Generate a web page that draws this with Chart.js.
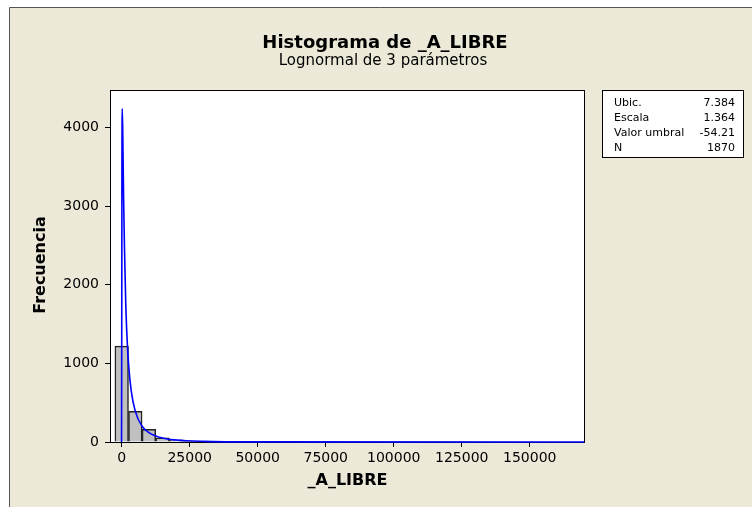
<!DOCTYPE html>
<html>
<head>
<meta charset="utf-8">
<script src="https://cdn.jsdelivr.net/npm/chart.js@4"></script>
<style>
  html, body { margin: 0; padding: 0; background: #fff; }
  #wrap { width: 752px; height: 507px; }
</style>
</head>
<body>
<div id="wrap"><canvas id="histChart" width="752" height="507"></canvas></div>
<script>
// histogram bins (centre of each 5000-wide bin) and counts
const binCenters = [0, 5000, 10000, 15000, 20000, 25000, 30000, 50000];
const binCounts = [1220, 390, 160, 52, 28, 8, 3, 10];

// fitted 3-parameter lognormal
const curveX = [-54, 20, 80, 200, 400, 700, 1000, 1500, 2000, 2500, 3500, 5000, 7500, 10000, 15000, 20000, 30000, 50000, 170000];
const curveY = [0, 1500, 3300, 4240, 3900, 3100, 2500, 1750, 1300, 1000, 650, 390, 200, 120, 50, 25, 8, 1, 0];

const xTicks = [0, 25000, 50000, 75000, 100000, 125000, 150000];
const yTicks = [0, 1000, 2000, 3000, 4000];

const statLabels = ['Ubic.', 'Escala', 'Valor umbral', 'N'];
const statValues = ['7.384', '1.364', '-54.21', '1870'];

const FONT = '"DejaVu Sans", Verdana, sans-serif';

const decor = {
    id: 'decor',
    beforeDraw(chart) {
        const c = chart.ctx, a = chart.chartArea;
        c.save();
        c.fillStyle = '#fff';
        c.fillRect(0, 0, chart.width, chart.height);
        c.fillStyle = '#ECE9D8';
        c.fillRect(10, 8, chart.width - 10, chart.height - 8);
        c.strokeStyle = '#555';
        c.lineWidth = 1;
        c.beginPath();
        c.moveTo(9.5, chart.height);
        c.lineTo(9.5, 7.5);
        c.lineTo(chart.width, 7.5);
        c.stroke();
        c.fillStyle = '#fff';
        c.fillRect(a.left, a.top, a.right - a.left, a.bottom - a.top);
        c.restore();
    },
    beforeDatasetsDraw(chart) {
        // plot frame, under the curve so the baseline shows blue
        const c = chart.ctx, a = chart.chartArea;
        c.save();
        c.strokeStyle = '#000';
        c.lineWidth = 1;
        c.strokeRect(a.left + 0.5, a.top + 0.5, a.right - a.left - 1, a.bottom - a.top);
        c.restore();
    },
    afterDraw(chart) {
        const c = chart.ctx, a = chart.chartArea;
        c.save();
        c.fillStyle = '#000';
        c.textAlign = 'center';
        c.textBaseline = 'middle';
        c.font = 'bold 18px ' + FONT;
        c.fillText('Histograma de _A_LIBRE', 385, 43);
        c.font = '15px ' + FONT;
        c.fillText('Lognormal de 3 parámetros', 383, 61);
        c.font = 'bold 16px ' + FONT;
        c.fillText('_A_LIBRE', (a.left + a.right) / 2, 481);
        c.save();
        c.translate(41, 265);
        c.rotate(-Math.PI / 2);
        c.fillText('Frecuencia', 0, 0);
        c.restore();
        // stats box
        c.strokeStyle = '#000';
        c.lineWidth = 1;
        c.fillStyle = '#fff';
        c.fillRect(602, 90, 141, 67);
        c.strokeRect(602.5, 90.5, 141, 67);
        c.fillStyle = '#000';
        c.font = '11px ' + FONT;
        statLabels.forEach((t, i) => {
            c.textAlign = 'left';
            c.fillText(t, 614, 103 + i * 15);
            c.textAlign = 'right';
            c.fillText(statValues[i], 735, 103 + i * 15);
        });
        c.restore();
    }
};

new Chart(document.getElementById('histChart'), {
    data: {
        datasets: [{
            type: 'line',
            data: curveX.map((x, i) => ({ x: x, y: curveY[i] })),
            borderColor: '#0000FF',
            borderWidth: 1.6,
            pointRadius: 0,
            cubicInterpolationMode: 'monotone',
            clip: false,
            order: 0
        }, {
            type: 'bar',
            data: binCenters.map((x, i) => ({ x: x, y: binCounts[i] })),
            backgroundColor: '#C0C0C0',
            borderColor: '#222',
            borderWidth: 1.5,
            barPercentage: 1,
            categoryPercentage: 1,
            order: 1
        }]
    },
    options: {
        responsive: false,
        animation: false,
        layout: { padding: { left: 10, right: 167, top: 90, bottom: 0 } },
        plugins: { legend: { display: false }, tooltip: { enabled: false } },
        scales: {
            x: {
                type: 'linear',
                offset: false,
                min: -4300,
                max: 170300,
                afterBuildTicks: s => { s.ticks = xTicks.map(v => ({ value: v })); },
                afterFit: s => { s.height = 65; },
                grid: { offset: false, drawOnChartArea: false, drawTicks: true, tickLength: 5, color: '#000' },
                border: { display: false },
                ticks: {
                    color: '#000', font: { family: FONT, size: 14 }, padding: 3,
                    maxRotation: 0, autoSkip: false, callback: v => String(v)
                }
            },
            y: {
                min: 0,
                max: 4480,
                afterBuildTicks: s => { s.ticks = yTicks.map(v => ({ value: v })); },
                afterFit: s => { s.width = 100; },
                grid: { drawOnChartArea: false, drawTicks: true, tickLength: 5, color: '#000' },
                border: { display: false },
                ticks: { color: '#000', font: { family: FONT, size: 14 }, padding: 6, callback: v => String(v) }
            }
        }
    },
    plugins: [decor]
});
</script>
</body>
</html>
